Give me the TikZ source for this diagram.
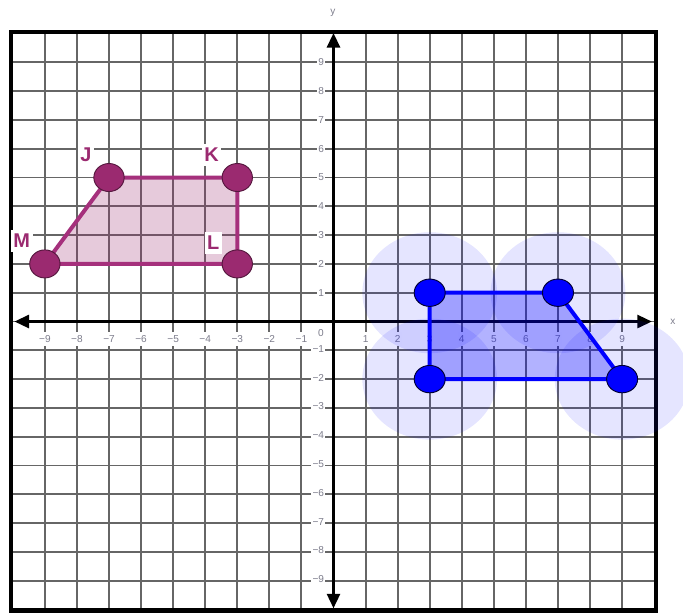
\documentclass[tikz,border=0pt]{standalone}
\usepackage{fontspec}
\setmainfont{Liberation Sans}
\usetikzlibrary{arrows.meta,shapes.geometric}
\definecolor{purp}{RGB}{155,42,112}
\definecolor{purpline}{RGB}{165,48,124}
\definecolor{purpfill}{RGB}{155,42,112}
\definecolor{ticklab}{RGB}{125,125,140}
\definecolor{bluedot}{RGB}{0,0,255}
\begin{document}
\begin{tikzpicture}[x=0.962cm, y=0.864cm,
  gridline/.style={draw=black!60, line width=1.6pt},
  frameline/.style={draw=black, line width=3.8pt},
  axisline/.style={draw=black, line width=2.6pt, {Triangle[length=12.5pt,width=11pt]}-{Triangle[length=12.5pt,width=11pt]}},
  ticklabel/.style={text=ticklab, font=\fontsize{8.6}{9}\selectfont, fill=white, inner xsep=1pt, inner ysep=3pt},
  axislabel/.style={text=ticklab, font=\fontsize{8.6}{9}\selectfont, inner sep=1pt},
  halo/.style={fill=blue, fill opacity=0.10},
  blueshape/.style={draw=bluedot, line width=3.4pt, fill=blue, fill opacity=0.30, line join=round},
  purpshape/.style={draw=purpline, line width=3.4pt, fill=purpfill, fill opacity=0.25, line join=round},
  bdot/.style={ellipse, draw=black!80!blue, line width=0.8pt, fill=bluedot, minimum width=0.93cm, minimum height=0.82cm, inner sep=0pt},
  pdot/.style={ellipse, draw=purp!55!black, line width=0.8pt, fill=purp, minimum width=0.91cm, minimum height=0.84cm, inner sep=0pt},
  ptlabel/.style={text=purp, font=\bfseries\fontsize{17}{19}\selectfont, fill=white, inner xsep=2.2pt, inner ysep=3.6pt}
]
\useasboundingbox (-10.399,-10.122) rectangle (10.898,11.163);
% grid
\foreach \i in {-9,...,9} {
  \draw[gridline] (\i,-10.06) -- (\i,10.06);
  \draw[gridline] (-10.06,\i) -- (10.06,\i);
}
% tick labels
\foreach \i in {1,...,9} {
  \node[ticklabel] (xp\i) at (\i,-0.61) {\i};
  \node[ticklabel] (xm\i) at (-\i,-0.61) {−\i};
  \node[ticklabel, anchor=east, inner ysep=2pt] (yp\i) at (-0.25,\i) {\i};
  \node[ticklabel, anchor=east, inner ysep=2pt] (ym\i) at (-0.25,-\i+0.05) {−\i};
}
\node[ticklabel, inner ysep=1pt] (zero) at (-0.39,-0.4) {0};
% axes
\coordinate (xl) at (-9.95,0);
\coordinate (xr) at (9.93,0);
\coordinate (yb) at (0,-9.96);
\coordinate (yt) at (0,10.02);
\draw[axisline] (xl) -- (xr);
\draw[axisline] (yb) -- (yt);
\node[axislabel] (xlab) at (10.58,-0.02) {x};
\node[axislabel] (ylab) at (-0.02,10.71) {y};
% frame
\draw[frameline] (-10.06,-10.04) rectangle (10.06,10.05);
% translucent halos
\fill[halo] (3,1) circle (2.1);
\fill[halo] (7,1) circle (2.1);
\fill[halo] (9,-2) circle (2.1);
\fill[halo] (3,-2) circle (2.1);
% blue quadrilateral
\coordinate (A) at (3,1);
\coordinate (B) at (7,1);
\coordinate (C) at (9,-2);
\coordinate (D) at (3,-2);
\draw[blueshape] (A) -- (B) -- (C) -- (D) -- cycle;
\node[bdot] (dA) at (A) {};
\node[bdot] (dB) at (B) {};
\node[bdot] (dC) at (C) {};
\node[bdot] (dD) at (D) {};
% purple quadrilateral
\coordinate (J) at (-7,5);
\coordinate (K) at (-3,5);
\coordinate (L) at (-3,2);
\coordinate (M) at (-9,2);
\draw[purpshape] (J) -- (K) -- (L) -- (M) -- cycle;
\node[pdot] (dJ) at (J) {};
\node[pdot] (dK) at (K) {};
\node[pdot] (dL) at (L) {};
\node[pdot] (dM) at (M) {};
% letter labels
\node[ptlabel] (labJ) at (-7.72,5.78) {J};
\node[ptlabel] (labK) at (-3.80,5.78) {K};
\node[ptlabel] (labL) at (-3.75,2.74) {L};
\node[ptlabel] (labM) at (-9.72,2.81) {M};
\end{tikzpicture}
\end{document}
